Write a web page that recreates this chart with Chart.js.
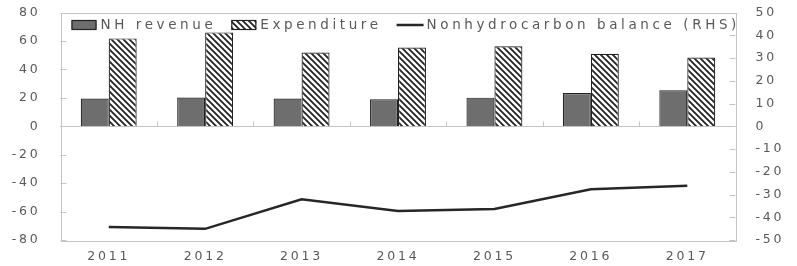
<!DOCTYPE html>
<html>
<head>
<meta charset="utf-8">
<script src="https://cdn.jsdelivr.net/npm/chart.js@4/dist/chart.umd.min.js"></script>
<style>
  html, body { margin: 0; padding: 0; background: #fff; }
  #wrap { width: 797px; height: 266px; }
</style>
</head>
<body>
<div id="wrap"><canvas id="c"></canvas></div>
<script>
// data
const years = ['2011', '2012', '2013', '2014', '2015', '2016', '2017'];
const nhRevenue = [19.5, 20.2, 19.5, 19, 20.1, 23.4, 25.3];
const expenditure = [61.8, 66, 51.8, 55.3, 56.2, 51, 48.4];
const balance = [-44.3, -45.1, -32.1, -37.2, -36.4, -27.7, -26.2];

const leftTicks = { min: -80, max: 80, step: 20 };
const rightTicks = { min: -50, max: 50, step: 10 };

const axisGray = '#c4c4c4';
const textGray = '#595959';
const spacing = '2.8px';

// hatched fill for the expenditure bars
function hatch() {
    const s = 6;
    const cv = document.createElement('canvas');
    cv.width = s; cv.height = s;
    const g = cv.getContext('2d');
    g.fillStyle = '#fff';
    g.fillRect(0, 0, s, s);
    g.strokeStyle = '#222';
    g.lineWidth = 1.8;
    g.beginPath();
    g.moveTo(-1, -1); g.lineTo(s + 1, s + 1);
    g.moveTo(-1, s - 1); g.lineTo(1, s + 1);
    g.moveTo(s - 1, -1); g.lineTo(s + 1, 1);
    g.stroke();
    return g.createPattern(cv, 'repeat');
}

// wide lettering like the original
const spacingPlugin = {
    id: 'spacing',
    beforeLayout(chart) { chart.ctx.letterSpacing = spacing; },
    beforeDraw(chart) { chart.ctx.letterSpacing = spacing; }
};

// plot frame, inward ticks and the legend inside the plot
const framePlugin = {
    id: 'frame',
    afterDatasetsDraw(chart) {
        const { ctx, chartArea: a, scales } = chart;
        ctx.save();
        ctx.strokeStyle = axisGray;
        ctx.lineWidth = 1;
        ctx.strokeRect(Math.round(a.left) + 0.5, Math.round(a.top) + 0.5,
            Math.round(a.right - a.left), Math.round(a.bottom - a.top));

        ctx.beginPath();
        scales.y.ticks.forEach((t, i) => {
            const py = Math.round(scales.y.getPixelForTick(i)) + 0.5;
            ctx.moveTo(a.left, py); ctx.lineTo(a.left + 6, py);
        });
        scales.y1.ticks.forEach((t, i) => {
            const py = Math.round(scales.y1.getPixelForTick(i)) + 0.5;
            ctx.moveTo(a.right, py); ctx.lineTo(a.right - 6, py);
        });
        // zero line with ticks between the years
        const zy = Math.round(scales.y.getPixelForValue(0)) + 0.5;
        ctx.moveTo(a.left, zy); ctx.lineTo(a.right, zy);
        for (let i = 0; i < years.length - 1; i++) {
            const px = Math.round((scales.x.getPixelForValue(i) + scales.x.getPixelForValue(i + 1)) / 2) + 0.5;
            ctx.moveTo(px, zy); ctx.lineTo(px, zy - 5);
        }
        ctx.stroke();
        ctx.restore();
    },
    afterDraw(chart) {
        const { ctx, chartArea: a } = chart;
        const ds = chart.data.datasets;
        ctx.save();
        ctx.letterSpacing = '3.6px';
        ctx.font = '13.5px "DejaVu Sans"';
        ctx.textBaseline = 'middle';
        const cy = a.top + 12.5;
        let x = a.left + 11;
        ds.forEach(d => {
            if (d.type === 'line') {
                ctx.strokeStyle = d.borderColor;
                ctx.lineWidth = 2.5;
                ctx.beginPath();
                ctx.moveTo(x, cy); ctx.lineTo(x + 27, cy);
                ctx.stroke();
                x += 30;
            } else {
                ctx.fillStyle = d.backgroundColor;
                ctx.fillRect(x, cy - 4.5, 25, 9);
                ctx.strokeStyle = '#222';
                ctx.lineWidth = 1.2;
                ctx.strokeRect(x + 0.5, cy - 4.5, 24, 9);
                x += 29;
            }
            ctx.fillStyle = textGray;
            ctx.fillText(d.label, x, cy + 0.5);
            x += ctx.measureText(d.label).width + 15;
        });
        ctx.restore();
    }
};

const font = { family: '"DejaVu Sans"', size: 12.5 };

// fixed axis sizes so the plot box matches the original
function fitY(w) {
    return s => { s.width = w; s.paddingTop = 0; s.paddingBottom = 0; };
}

new Chart(document.getElementById('c'), {
    data: {
        labels: years,
        datasets: [
            {
                type: 'bar', label: 'NH revenue', data: nhRevenue, yAxisID: 'y',
                backgroundColor: '#6e6e6e', borderColor: '#222', borderWidth: 1.2,
                barPercentage: 1, categoryPercentage: 0.58, order: 2
            },
            {
                type: 'bar', label: 'Expenditure', data: expenditure, yAxisID: 'y',
                backgroundColor: hatch(), borderColor: '#222', borderWidth: 1.2,
                barPercentage: 1, categoryPercentage: 0.58, order: 2
            },
            {
                type: 'line', label: 'Nonhydrocarbon balance (RHS)', data: balance, yAxisID: 'y1',
                borderColor: '#262626', borderWidth: 2.5, pointRadius: 0, tension: 0, order: 1
            }
        ]
    },
    options: {
        responsive: true,
        maintainAspectRatio: false,
        animation: false,
        layout: { padding: { top: 12.5, left: 0, right: 0, bottom: 0 } },
        plugins: { legend: { display: false }, tooltip: { enabled: false } },
        scales: {
            x: {
                grid: { display: false, drawTicks: false },
                border: { display: false },
                ticks: { color: textGray, font, padding: 9.5, maxRotation: 0 },
                afterFit(s) { s.height = 26; }
            },
            y: {
                position: 'left',
                min: leftTicks.min, max: leftTicks.max,
                grid: { display: false, drawTicks: false },
                border: { display: false },
                ticks: { stepSize: leftTicks.step, color: textGray, font, padding: 20 },
                afterFit: fitY(60.5)
            },
            y1: {
                position: 'right',
                min: rightTicks.min, max: rightTicks.max,
                grid: { display: false, drawTicks: false },
                border: { display: false },
                ticks: { stepSize: rightTicks.step, color: textGray, font, padding: 20 },
                afterFit: fitY(61.5)
            }
        }
    },
    plugins: [spacingPlugin, framePlugin]
});
</script>
</body>
</html>
